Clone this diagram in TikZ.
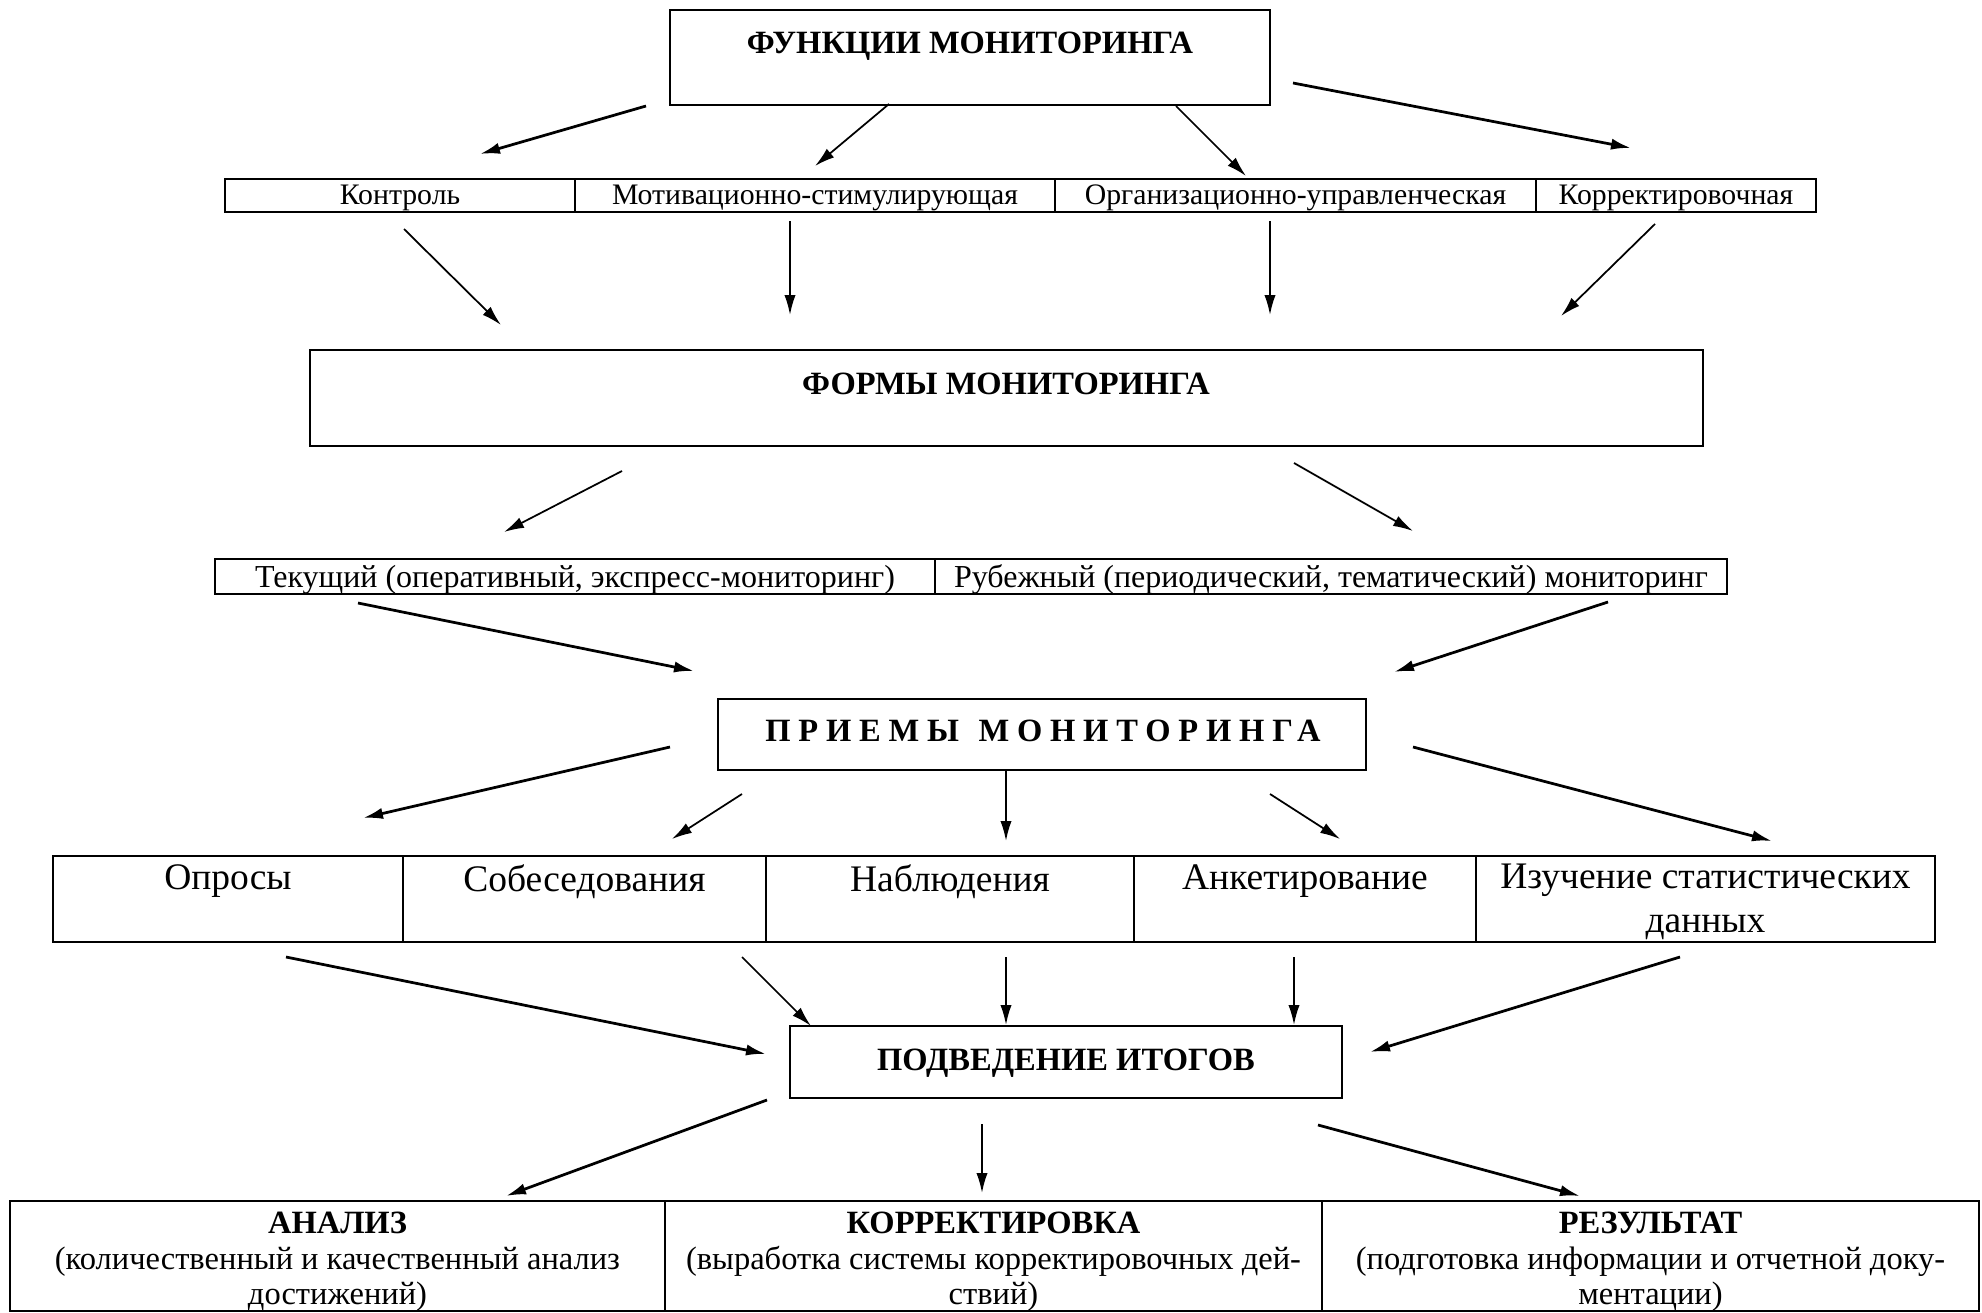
\documentclass[tikz,border=0pt]{standalone}
\usepackage{fontspec}
\setmainfont{Liberation Serif}
\usetikzlibrary{arrows.meta,fit,positioning}
\def\rowa{179}
\def\rowb{212}

\begin{document}
\begin{tikzpicture}[x=0.4pt,y=-0.4pt,line width=0.8pt]
            \tikzstyle{box}=[draw,inner sep=0pt]
            \tikzstyle{head}=[font=\bfseries\fontsize{13}{16}\selectfont]
            \tikzstyle{small}=[font=\fontsize{11.9}{14}\selectfont, text height=0.7em, text depth=0.22em, inner sep=0pt]
            \tikzstyle{middle}=[font=\fontsize{12.8}{15}\selectfont, text height=0.7em, text depth=0.22em, inner sep=0pt]
            \tikzstyle{big}=[font=\fontsize{15}{17.6}\selectfont, align=center, anchor=north]
            \tikzstyle{result}=[font=\fontsize{13}{14.3}\selectfont, align=center, anchor=north]
            \tikzstyle{arr}=[-{Latex[length=8pt,width=4.5pt]}, line width=1.1pt]
            \tikzstyle{thin arr}=[arr, line width=0.7pt]

            \useasboundingbox (0,0) rectangle (1982,1313);

            % Draw the main boxes
            \node[box, fit={(670,10) (1270,105)}] (FUN) {};
            \node[head] (FUN-T) at (970,46) {ФУНКЦИИ МОНИТОРИНГА};
            \node[box, fit={(310,350) (1703,446)}] (FORM) {};
            \node[head] (FORM-T) at (1006,384) {ФОРМЫ МОНИТОРИНГА};
            \node[box, fit={(718,699) (1366,770)}] (PRIEM) {};
            \node[head] (PRIEM-T) at (1043,731) {\addfontfeatures{LetterSpace=24}ПРИЕМЫ\hspace{0.6em}МОНИТОРИНГА};
            \node[box, fit={(790,1026) (1342,1098)}] (ITOG) {};
            \node[head] (ITOG-T) at (1066,1063) {ПОДВЕДЕНИЕ ИТОГОВ};

            % Functions row
            \foreach \name / \xa / \xb / \txt in {1/225/575/Контроль, 2/575/1055/Мотивационно-стимулирующая,
                    3/1055/1536/Организационно-управленческая, 4/1536/1816/Корректировочная}
            {
                \node[box, fit={(\xa,\rowa) (\xb,\rowb)}] (F-\name) {};
                \node[small] (F-\name-T) at (F-\name) [yshift=-1pt] {\txt};
            }

            % Forms row
            \foreach \name / \xa / \xb / \txt in {1/215/935/{Текущий (оперативный, экспресс-мониторинг)},
                    2/935/1727/{Рубежный (периодический, тематический) мониторинг}}
            {
                \node[box, fit={(\xa,559) (\xb,594)}] (M-\name) {};
                \node[middle] (M-\name-T) at (M-\name) [yshift=-2pt] {\txt};
            }

            % Methods row
            \foreach \name / \xa / \xb / \txt in {1/53/403/Опросы, 2/403/766/Собеседования, 3/766/1134/Наблюдения,
                    4/1134/1476/Анкетирование, 5/1476/1935/{Изучение статистических\\данных}}
            {
                \node[box, fit={(\xa,856) (\xb,942)}] (P-\name) {};
                \node[big] (P-\name-T) at (P-\name.north) {\txt};
            }

            % Result row
            \foreach \name / \xa / \xb / \txt in {1/10/665/{\textbf{АНАЛИЗ}\\(количественный и качественный анализ\\достижений)},
                    2/665/1322/{\textbf{КОРРЕКТИРОВКА}\\(выработка системы корректировочных дей-\\ствий)},
                    3/1322/1979/{\textbf{РЕЗУЛЬТАТ}\\(подготовка информации и отчетной доку-\\ментации)}}
            {
                \node[box, fit={(\xa,1201) (\xb,1311)}] (R-\name) {};
                \node[result] (R-\name-T) at (R-\name.north) [yshift=-1pt] {\txt};
            }

            % Connect the levels (thick arrows)
            \foreach \n / \xa / \ya / \xb / \yb in {a1/646/106/480/154, a4/1293/83/1631/148,
                    d1/358/603/694/671, d2/1608/602/1394/672, e1/670/747/363/818, e5/1413/747/1772/841,
                    f1/286/957/766/1054, f5/1680/957/1370/1052, g1/767/1100/506/1196, g3/1318/1125/1580/1196}
            {
                \coordinate (S-\n) at (\xa,\ya);
                \coordinate (E-\n) at (\xb,\yb);
                \draw[arr] (S-\n) -- (E-\n);
            }

            % Connect the levels (thin arrows)
            \foreach \n / \xa / \ya / \xb / \yb in {a2/889/104/815/166, a3/1176/106/1246/176,
                    b1/404/229/501/325, b2/790/221/790/315, b3/1270/221/1270/315, b4/1655/224/1561/316,
                    c1/622/471/504/532, c2/1294/463/1413/531,
                    e2/742/794/672/839, e3/1006/771/1006/841, e4/1270/794/1340/839,
                    f2/742/957/811/1026, f3/1006/957/1006/1025, f4/1294/957/1294/1025, g2/982/1124/982/1193}
            {
                \coordinate (S-\n) at (\xa,\ya);
                \coordinate (E-\n) at (\xb,\yb);
                \draw[thin arr] (S-\n) -- (E-\n);
            }
\end{tikzpicture}
\end{document}
